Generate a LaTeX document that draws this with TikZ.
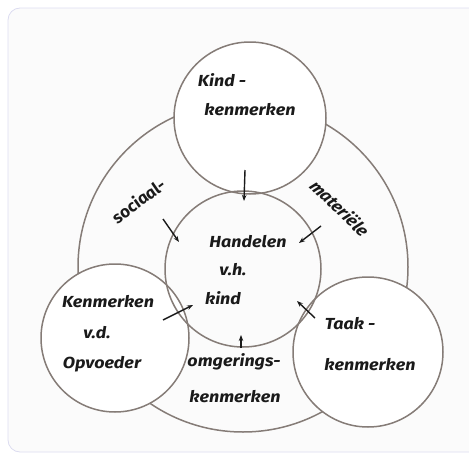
\documentclass[tikz,border=0pt]{standalone}
\usepackage{fontspec}
\setmainfont{Fira Sans}
\usetikzlibrary{arrows.meta}
\definecolor{ring}{HTML}{857C77}
\definecolor{ink}{HTML}{1A1A1A}
\definecolor{cardline}{HTML}{DCDCF0}
\definecolor{cardfill}{HTML}{FBFBFB}
\begin{document}
\begin{tikzpicture}[x=1pt,y=-1pt,
  circ/.style={circle, draw=ring, line width=1.5pt, inner sep=0pt},
  lbl/.style={font=\bfseries\itshape\fontsize{16}{19}\selectfont, text=ink, inner sep=0pt, xscale=1.12},
  arr/.style={-{Stealth[length=6pt,width=4.5pt]}, line width=1.4pt, draw=ink}]
\path[use as bounding box] (0,0) rectangle (469,455);
\draw[cardline, fill=cardfill, line width=0.8pt, rounded corners=12pt] (8,8) rectangle (490,452);
% outer ring
\node[circ, minimum size=330pt] (outer) at (243,267) {};
% white discs hiding the ring
\fill[white] (250,118) circle (76);
\fill[white] (115,338) circle (74);
\fill[white] (368,352) circle (75);
% circles
\node[circ, minimum size=152pt] (top) at (250,118) {};
\node[circ, minimum size=148pt] (left) at (115,338) {};
\node[circ, minimum size=150pt] (right) at (368,352) {};
\node[circ, minimum size=156pt] (mid) at (243,269) {};
% texts
\node[lbl] (t1) at (222,80) {Kind -};
\node[lbl] (t2) at (250,110) {kenmerken};
\node[lbl] (m1) at (248,242) {Handelen};
\node[lbl] (m2) at (233,270) {v.h.};
\node[lbl] (m3) at (223,298) {kind};
\node[lbl] (l1) at (108,302) {Kenmerken};
\node[lbl] (l2) at (97,333) {v.d.};
\node[lbl] (l3) at (102,364) {Opvoeder};
\node[lbl] (r1) at (350,324) {Taak -};
\node[lbl] (r2) at (370,365) {kenmerken};
\node[lbl] (b1) at (234,362) {omgerings-};
\node[lbl] (b2) at (235,397) {kenmerken};
\node[lbl, rotate=40] (s1) at (138,201) {sociaal-};
\node[lbl, rotate=-47] (s2) at (340,208) {materiële};
% arrows
\coordinate (aT1) at (245,170); \coordinate (aT2) at (244,201);
\coordinate (aS1) at (163,219); \coordinate (aS2) at (179,242);
\coordinate (aM1) at (321,226); \coordinate (aM2) at (299,243);
\coordinate (aL1) at (163,320); \coordinate (aL2) at (193,305);
\coordinate (aR1) at (315,318); \coordinate (aR2) at (297,301);
\coordinate (aB1) at (241,348); \coordinate (aB2) at (241,335);
\draw[arr] (aT1) -- (aT2);
\draw[arr] (aS1) -- (aS2);
\draw[arr] (aM1) -- (aM2);
\draw[arr] (aL1) -- (aL2);
\draw[arr] (aR1) -- (aR2);
\draw[arr] (aB1) -- (aB2);
\end{tikzpicture}
\end{document}
